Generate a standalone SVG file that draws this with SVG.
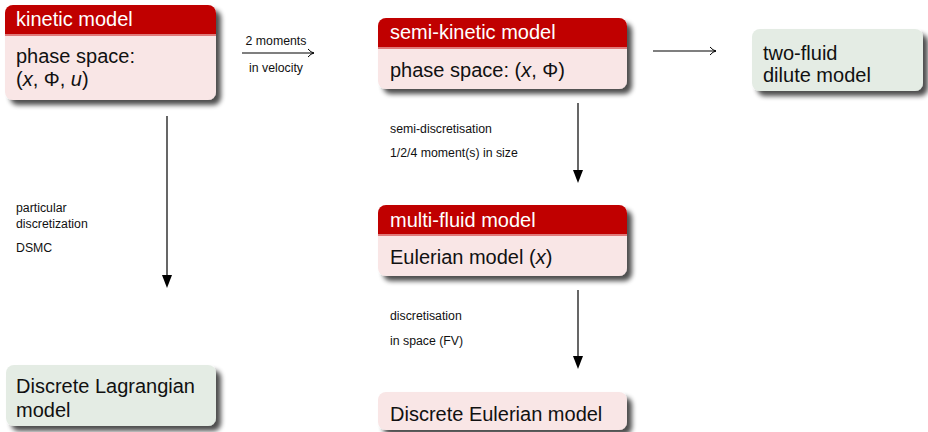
<svg xmlns="http://www.w3.org/2000/svg" width="928" height="432" viewBox="0 0 928 432">
<style>
  .pink{fill:#f9e6e6}
  .green{fill:#e4ece4}
  .hdr{fill:#c00000}
  .sep{stroke:#e07a7a;stroke-width:2}
  .ht{font-family:"Liberation Sans",Arial,sans-serif;font-size:20px;fill:#ffffff}
  .bt{font-family:"Liberation Sans",Arial,sans-serif;font-size:20px;fill:#111111}
  .lbl{font-family:"Liberation Sans",Arial,sans-serif;font-size:12.3px;fill:#111111}
  .conn{stroke:#000;stroke-width:1.2;fill:none}
  .head{fill:#000}
  .it{font-style:italic}
</style>
<defs>
  <filter id="sh" x="-10%" y="-20%" width="130%" height="150%">
    <feGaussianBlur in="SourceAlpha" stdDeviation="2.5"/>
    <feOffset dx="5" dy="5" result="b"/>
    <feComponentTransfer><feFuncA type="linear" slope="0.7"/></feComponentTransfer>
    <feMerge><feMergeNode/><feMergeNode in="SourceGraphic"/></feMerge>
  </filter>
  <marker id="open" markerWidth="10" markerHeight="10" refX="8" refY="5" orient="auto" markerUnits="userSpaceOnUse" viewBox="0 0 10 10">
    <path d="M2,1 Q5,4.5 8,5 Q5,5.5 2,9" fill="none" stroke="#000" stroke-width="1"/>
  </marker>
</defs>

<g id="connectors">
  <line class="conn" x1="242" y1="53" x2="314" y2="53" marker-end="url(#open)"/>
  <line class="conn" x1="653" y1="51" x2="716" y2="51" marker-end="url(#open)"/>
  <line class="conn" x1="167" y1="116" x2="167" y2="276"/>
  <path class="head" d="M162,275 L172,275 L167,288 Z"/>
  <line class="conn" x1="578" y1="103" x2="578" y2="171"/>
  <path class="head" d="M573,170 L583,170 L578,183 Z"/>
  <line class="conn" x1="578" y1="290" x2="578" y2="357"/>
  <path class="head" d="M573,356 L583,356 L578,369 Z"/>
  <text class="lbl" x="276" y="45" text-anchor="middle">2 moments</text>
  <text class="lbl" x="276" y="72" text-anchor="middle">in velocity</text>
  <text class="lbl" x="16" y="212">particular</text>
  <text class="lbl" x="16" y="228">discretization</text>
  <text class="lbl" x="16" y="252">DSMC</text>
  <text class="lbl" x="390" y="133">semi-discretisation</text>
  <text class="lbl" x="390" y="157">1/2/4 moment(s) in size</text>
  <text class="lbl" x="390" y="320">discretisation</text>
  <text class="lbl" x="390" y="345">in space (FV)</text>
</g>

<g id="kinetic">
  <g filter="url(#sh)">
    <rect class="pink" x="5" y="5" width="211" height="95" rx="8"/>
  </g>
  <path class="hdr" d="M5,35 V13 A8,8 0 0 1 13,5 H208 A8,8 0 0 1 216,13 V35 Z"/>
  <line class="sep" x1="5" y1="35" x2="216" y2="35"/>
  <text class="ht" x="16" y="26">kinetic model</text>
  <text class="bt" x="16" y="63">phase space:</text>
  <text class="bt" x="16" y="86">(<tspan class="it">x</tspan>, Φ, <tspan class="it">u</tspan>)</text>
</g>

<g id="semikinetic">
  <g filter="url(#sh)">
    <rect class="pink" x="378" y="18" width="249" height="71" rx="8"/>
  </g>
  <path class="hdr" d="M378,48 V26 A8,8 0 0 1 386,18 H619 A8,8 0 0 1 627,26 V48 Z"/>
  <line class="sep" x1="378" y1="48" x2="627" y2="48"/>
  <text class="ht" x="390" y="39">semi-kinetic model</text>
  <text class="bt" x="390" y="77">phase space: (<tspan class="it">x</tspan>, Φ)</text>
</g>

<g id="twofluid">
  <g filter="url(#sh)">
    <rect class="green" x="752" y="29" width="171" height="62" rx="8"/>
  </g>
  <text class="bt" x="763" y="60">two-fluid</text>
  <text class="bt" x="763" y="82">dilute model</text>
</g>

<g id="multifluid">
  <g filter="url(#sh)">
    <rect class="pink" x="378" y="205" width="249" height="71" rx="8"/>
  </g>
  <path class="hdr" d="M378,235 V213 A8,8 0 0 1 386,205 H619 A8,8 0 0 1 627,213 V235 Z"/>
  <line class="sep" x1="378" y1="235" x2="627" y2="235"/>
  <text class="ht" x="390" y="227">multi-fluid model</text>
  <text class="bt" x="390" y="264">Eulerian model (<tspan class="it">x</tspan>)</text>
</g>

<g id="lagrangian">
  <g filter="url(#sh)">
    <rect class="green" x="6" y="365" width="210" height="61" rx="8"/>
  </g>
  <text class="bt" x="16" y="393">Discrete Lagrangian</text>
  <text class="bt" x="16" y="417">model</text>
</g>

<g id="discreteeulerian">
  <g filter="url(#sh)">
    <rect class="pink" x="378" y="392" width="249" height="38" rx="8"/>
  </g>
  <text class="bt" x="390" y="421">Discrete Eulerian model</text>
</g>
</svg>
